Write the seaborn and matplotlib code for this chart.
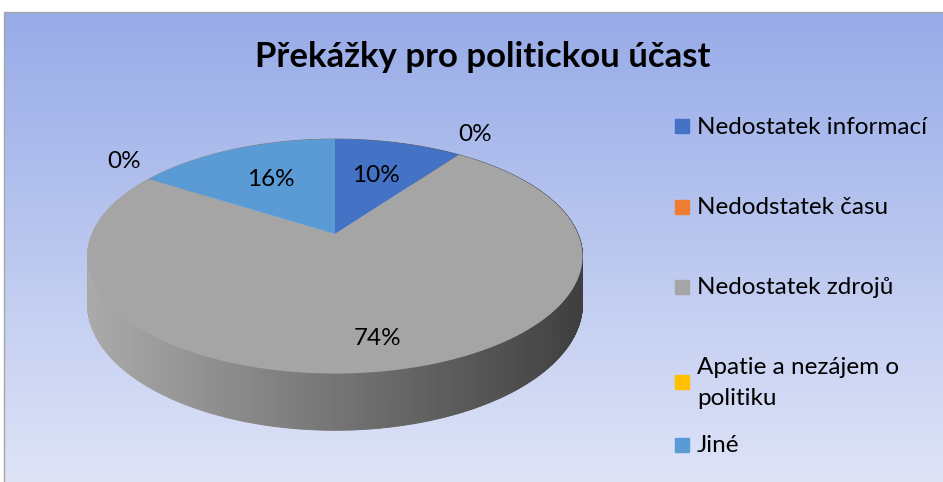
import numpy as np
import matplotlib
matplotlib.use("Agg")
import matplotlib.pyplot as plt
import seaborn as sns
from matplotlib.patches import Rectangle

sns.set_theme(style="white")
plt.rcParams['font.family'] = ['Lato', 'DejaVu Sans']
plt.rcParams['text.color'] = 'black'

# data
kategorie = ["Nedostatek informací", "Nedodstatek času", "Nedostatek zdrojů",
             "Apatie a nezájem o\npolitiku", "Jiné"]
podil = [10, 0, 74, 0, 16]
barvy = ["#4472C4", "#ED7D31", "#A5A5A5", "#FFC000", "#5B9BD5"]
titulek = "Překážky pro politickou účast"

W, H = 943, 482
fig = plt.figure(figsize=(W / 100, H / 100), dpi=100)
ax = fig.add_axes([0, 0, 1, 1])
ax.set_xlim(0, W)
ax.set_ylim(H, 0)
ax.axis("off")

# chart area background (vertical gradient)
top_c = np.array([151, 171, 232]) / 255
bot_c = np.array([222, 227, 246]) / 255
t = np.linspace(0, 1, 256)[:, None, None]
grad = top_c * (1 - t) + bot_c * t
ax.imshow(grad, extent=[4, W, H, 12], aspect="auto", zorder=0)
ax.plot([4, 4, W], [H, 12, 12], color="#A6A6A6", lw=1, zorder=1)

# perspective projection of the pie
cx, cy = 335, 234
B, A, k, depth = 243, 113, 0.19, 46


def proj(theta, z=0.0, r=1.0):
    u = r * np.sin(theta)
    v = r * np.cos(theta)
    d = 1 + k * v
    return cx + B * u / d, cy - A * v / d + depth * z / (1 + k * np.cos(theta))


# side wall (only the big slice faces the viewer)
ths = np.linspace(0, 2 * np.pi, 721)
for a0, a1 in zip(ths[:-1], ths[1:]):
    x0, y0 = proj(a0)
    x1, y1 = proj(a1)
    x2, y2 = proj(a1, 1)
    x3, y3 = proj(a0, 1)
    f = np.clip(((x0 + x1) / 2 - 90) / 495, 0, 1)
    g = (170 * (1 - f) + 62 * f) / 255
    ax.fill([x0, x1, x2, x3], [y0, y1, y2, y3], color=(g, g, g),
            lw=0.6, ec=(g, g, g), zorder=2)

# top face wedges, clockwise from 12 o'clock
hrany = np.cumsum([0] + podil) / 100 * 2 * np.pi
for i, p in enumerate(podil):
    if p == 0:
        continue
    a = np.linspace(hrany[i], hrany[i + 1], 200)
    xs, ys = proj(a)
    ax.fill(np.r_[cx, xs], np.r_[cy, ys], color=barvy[i], lw=0, zorder=3)

# data labels
for i, p in enumerate(podil):
    mid = (hrany[i] + hrany[i + 1]) / 2
    if p == 0:
        x, y = proj(mid, r=1.15)
        y -= 10
    else:
        x, y = proj(mid, r=0.8 if p > 50 else 0.6)
    ax.text(x, y, f"{p}%", fontsize=17.5, ha="center", va="center",
            color="black", zorder=4)

ax.text(483, 57, titulek, fontsize=25, fontweight="bold", ha="center",
        va="center", color="black", zorder=4)

# legend
leg_y = [126, 207, 287, 382, 445]
for lab, col, y in zip(kategorie, barvy, leg_y):
    ax.add_patch(Rectangle((675, y - 7), 14, 14, color=col, zorder=4))
    ax.text(697, y + 1, lab, fontsize=17.5, ha="left", va="center",
            linespacing=1.55, color="black", zorder=4)

fig.savefig("out.png", dpi=100)
